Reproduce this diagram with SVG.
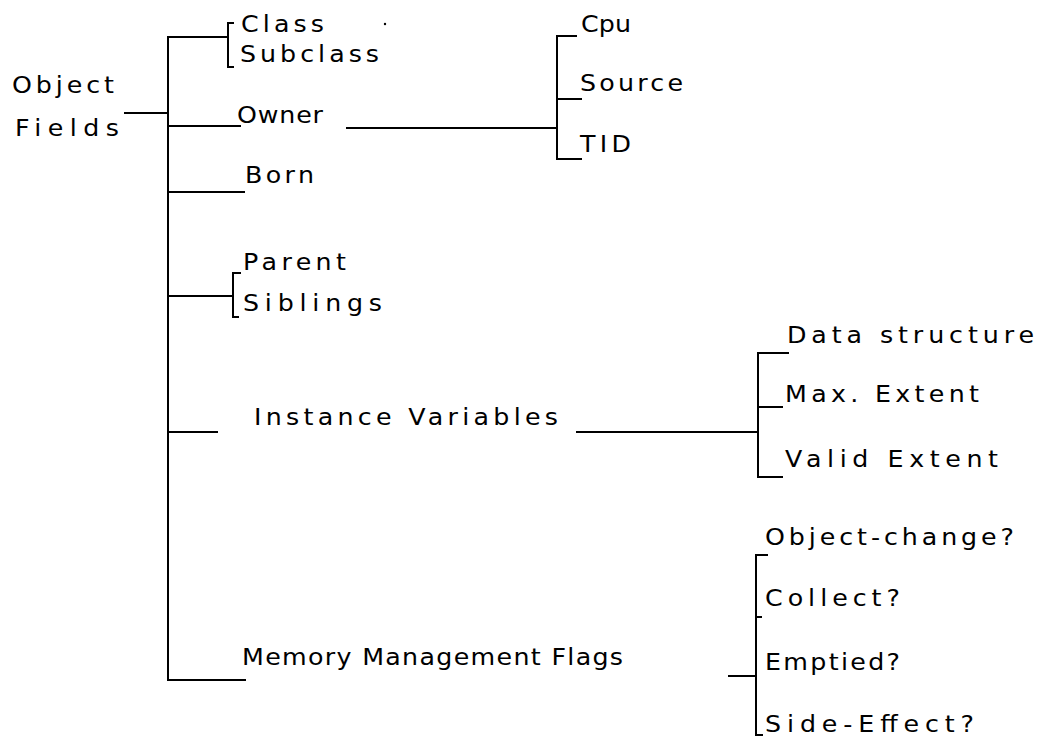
<svg xmlns="http://www.w3.org/2000/svg" width="1039" height="744" viewBox="0 0 1039 744">
<style>
text{font-family:"DejaVu Sans","Liberation Sans",sans-serif;font-size:23px;fill:#000}
.c path{fill:none;stroke:#000;stroke-width:2;stroke-linecap:square}
</style>
<rect width="1039" height="744" fill="#fff"/>
<g class="c" id="connectors">
<path d="M125 113H168"/>
<path d="M168 37V680"/>
<path d="M168 37H228"/>
<path d="M233 23H228V67H233"/>
<path d="M168 126H240"/>
<path d="M347 128H557"/>
<path d="M576 36H557V159H581"/>
<path d="M557 99H581"/>
<path d="M168 192H244"/>
<path d="M168 296H233"/>
<path d="M240 273H233V317H238"/>
<path d="M168 432H217"/>
<path d="M577 432H758"/>
<path d="M788 353H758V477H782"/>
<path d="M758 407H782"/>
<path d="M168 680H245"/>
<path d="M729 676H756"/>
<path d="M767 555H756V735H762"/>
<path d="M756 617H761"/>
</g>
<circle cx="385" cy="24" r="1.2" fill="#000"/>
<g id="object-fields"><text transform="translate(12 93) scale(1.1 1)" textLength="92.7" lengthAdjust="spacing">Object</text><text transform="translate(15 136) scale(1.1 1)" textLength="94.5" lengthAdjust="spacing">Fields</text></g>
<g id="class"><text transform="translate(241 32) scale(1.1 1)" textLength="75.5" lengthAdjust="spacing">Class</text></g>
<g id="subclass"><text transform="translate(240 62) scale(1.1 1)" textLength="126.4" lengthAdjust="spacing">Subclass</text></g>
<g id="owner"><text transform="translate(237 123) scale(1.1 1)" textLength="78.2" lengthAdjust="spacing">Owner</text></g>
<g id="born"><text transform="translate(245 183) scale(1.1 1)" textLength="62.7" lengthAdjust="spacing">Born</text></g>
<g id="cpu"><text transform="translate(581 32) scale(1.1 1)" textLength="45.5" lengthAdjust="spacing">Cpu</text></g>
<g id="source"><text transform="translate(580 91) scale(1.1 1)" textLength="93.6" lengthAdjust="spacing">Source</text></g>
<g id="tid"><text transform="translate(580 152) scale(1.1 1)" textLength="46.4" lengthAdjust="spacing">TID</text></g>
<g id="parent"><text transform="translate(243 270) scale(1.1 1)" textLength="93.6" lengthAdjust="spacing">Parent</text></g>
<g id="siblings"><text transform="translate(243 311) scale(1.1 1)" textLength="126.4" lengthAdjust="spacing">Siblings</text></g>
<g id="instance-variables"><text transform="translate(254 425) scale(1.1 1)" textLength="276.4" lengthAdjust="spacing">Instance Variables</text></g>
<g id="data-structure"><text transform="translate(787 343) scale(1.1 1)" textLength="224.5" lengthAdjust="spacing">Data structure</text></g>
<g id="max-extent"><text transform="translate(785 402) scale(1.1 1)" textLength="176.4" lengthAdjust="spacing">Max. Extent</text></g>
<g id="valid-extent"><text transform="translate(785 467) scale(1.1 1)" textLength="193.6" lengthAdjust="spacing">Valid Extent</text></g>
<g id="memory-flags"><text transform="translate(242 665) scale(1.1 1)" textLength="346.4" lengthAdjust="spacing">Memory Management Flags</text></g>
<g id="object-change"><text transform="translate(765 545) scale(1.1 1)" textLength="226.4" lengthAdjust="spacing">Object-change?</text></g>
<g id="collect"><text transform="translate(765 606) scale(1.1 1)" textLength="122.7" lengthAdjust="spacing">Collect?</text></g>
<g id="emptied"><text transform="translate(765 670) scale(1.1 1)" textLength="122.7" lengthAdjust="spacing">Emptied?</text></g>
<g id="side-effect"><text transform="translate(765 732) scale(1.1 1)" textLength="190" lengthAdjust="spacing">Side-Effect?</text></g>
</svg>
